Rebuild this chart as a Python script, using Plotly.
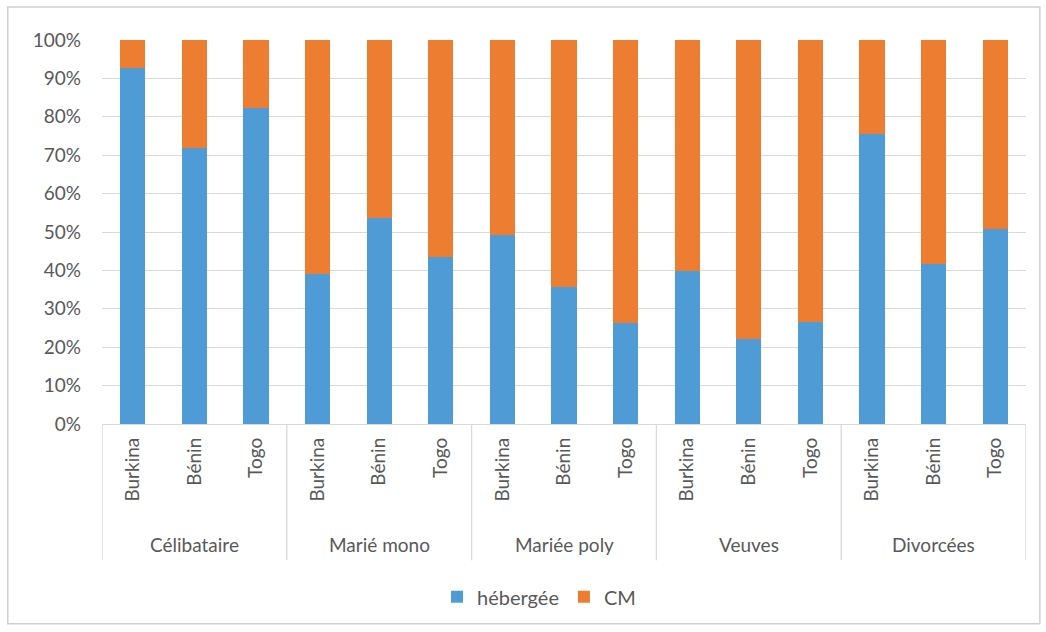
import plotly.graph_objects as go

groups = ["Célibataire", "Marié mono", "Mariée poly", "Veuves", "Divorcées"]
countries = ["Burkina", "Bénin", "Togo"]
hebergee = [0.927, 0.719, 0.823,
            0.390, 0.536, 0.435,
            0.492, 0.357, 0.262,
            0.398, 0.221, 0.266,
            0.755, 0.417, 0.508]
cm = [1 - v for v in hebergee]

n = len(groups) * len(countries)
xpos = list(range(n))
ticktext = countries * len(groups)

FONT = "Lato, 'Open Sans', sans-serif"
GRAY = "#595959"
LINE = "#d9d9d9"

fig = go.Figure()
fig.add_trace(go.Bar(x=xpos, y=hebergee, name="hébergée", marker_color="#4e9bd5",
                     width=0.41, marker_line_width=0))
fig.add_trace(go.Bar(x=xpos, y=cm, name="CM", marker_color="#ed7d31",
                     width=0.41, marker_line_width=0))

shapes = []
k = len(countries)
for g in range(len(groups) + 1):
    xb = g * k - 0.5
    shapes.append(dict(type="line", xref="x", yref="paper", x0=xb, x1=xb, y0=0, y1=-0.355,
                       line=dict(color=LINE, width=1.3)))
# outer frame
shapes.append(dict(type="rect", xref="paper", yref="paper", x0=-0.102, x1=1.015, y0=-0.52, y1=1.086,
                   line=dict(color="#d0d0d0", width=1.5)))

annotations = []
for i, gname in enumerate(groups):
    annotations.append(dict(x=i * k + (k - 1) / 2, y=-0.315, xref="x", yref="paper",
                            text=gname, showarrow=False, yanchor="middle",
                            font=dict(family=FONT, size=19, color=GRAY)))

fig.update_layout(
    barmode="stack",
    width=1046, height=632,
    margin=dict(l=102, r=20, t=40, b=208),
    paper_bgcolor="white", plot_bgcolor="white",
    font=dict(family=FONT, size=16, color=GRAY),
    shapes=shapes, annotations=annotations,
    legend=dict(orientation="h", x=0.473, xanchor="center", y=-0.45, yanchor="middle",
                font=dict(family=FONT, size=20, color=GRAY), itemwidth=30, traceorder="normal"),
    bargap=0.59,
)
fig.update_xaxes(tickmode="array", tickvals=xpos, ticktext=ticktext, tickangle=-90,
                 range=[-0.5, n - 0.5], showgrid=False, showline=True, linecolor=LINE, linewidth=1.3,
                 ticks="", tickfont=dict(family=FONT, size=19, color=GRAY), ticklabelstandoff=5)
fig.update_yaxes(range=[0, 1], dtick=0.1, tickformat=".0%", showgrid=True, gridcolor=LINE,
                 gridwidth=1.3, zeroline=False, showline=False, ticks="",
                 tickfont=dict(family=FONT, size=19, color=GRAY), ticklabelstandoff=20)

fig.write_html("out.html")
